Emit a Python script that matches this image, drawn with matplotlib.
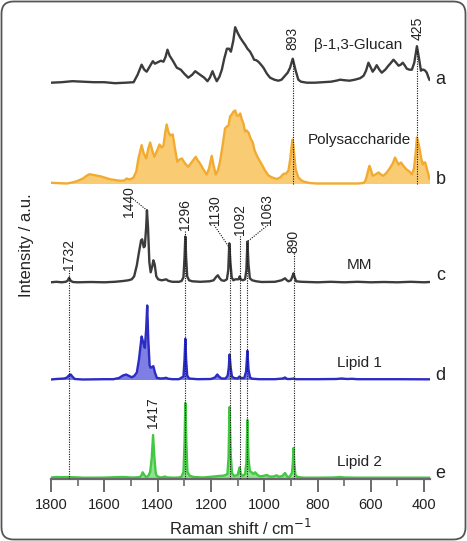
import matplotlib
matplotlib.use("Agg")
import matplotlib.pyplot as plt
from matplotlib.patches import FancyBboxPatch
import numpy as np

plt.rcParams['font.family'] = ['Liberation Sans', 'DejaVu Sans']

# ---------------- data (wavenumber cm-1, relative intensity) ----------------
wn_a = [1800, 1760, 1720, 1680, 1640, 1600, 1560, 1520, 1490, 1475, 1460, 1450, 1441, 1430, 1418,
        1410, 1403, 1395, 1388, 1378, 1370, 1363, 1355, 1343, 1328, 1313, 1300, 1285, 1270, 1259,
        1241, 1225, 1213, 1204, 1194, 1186, 1178, 1168, 1159, 1150, 1140, 1132, 1125, 1116, 1109,
        1100, 1090, 1080, 1072, 1063, 1053, 1045, 1038, 1030, 1022, 1012, 1003, 990, 978, 962,
        947, 935, 922, 912, 903, 893, 882, 872, 862, 840, 810, 780, 750, 730, 715, 700, 680, 660,
        640, 627, 618, 609, 600, 593, 585, 578, 568, 559, 546, 534, 524, 515, 505, 496, 488, 480,
        472, 465, 455, 446, 437, 427, 419, 412, 407, 402, 396, 390, 385, 380]
int_a = [0, 0.5, 1.5, 1, 0.5, 0.5, -0.5, 0, 0.5, 8, 18, 13, 11, 16, 21.5,
         19, 20, 21, 22, 21, 26, 33, 27, 22, 15, 13, 9, 5, 8, 11.5,
         8, 5, 1.5, 5, 11.5, 6, 1.5, 6, 13, 24, 34, 34, 31, 42, 55.5,
         50, 45, 41, 38, 34, 31, 27, 23, 22.5, 21, 18, 15, 9, 5, 3,
         2, 3, 7, 10, 15, 24, 12, 3, 1, 0, 0, 0.5, 1, 2, 3, 2.5, 2, 3,
         4.5, 7, 12, 20, 15, 11, 14, 17.5, 13, 10, 13, 17, 20, 23, 20, 17, 18, 20,
         17, 14, 13, 13, 20, 36.5, 24, 12, 13, 13, 12, 10, 6, 3]

wn_b = [1800, 1770, 1741, 1720, 1703, 1680, 1665, 1654, 1640, 1616, 1579, 1541, 1525, 1516, 1505,
        1491, 1480, 1472, 1460, 1452, 1443, 1435, 1428, 1420, 1412, 1402, 1393, 1385, 1378, 1372,
        1366, 1360, 1353, 1343, 1335, 1326, 1318, 1309, 1297, 1285, 1270, 1257, 1249, 1241, 1228,
        1216, 1207, 1197, 1190, 1182, 1174, 1166, 1155, 1147, 1140, 1134, 1128, 1122, 1115, 1109,
        1103, 1097, 1090, 1084, 1078, 1072, 1066, 1059, 1051, 1043, 1036, 1028, 1018, 1009, 997,
        984, 970, 953, 940, 928, 918, 909, 902, 896, 893, 888, 882, 872, 862, 853, 830, 803, 700,
        650, 627, 620, 615, 609, 605, 599, 593, 583, 571, 562, 553, 540, 527, 518, 509, 502, 496,
        487, 478, 466, 455, 446, 438, 432, 427, 421, 415, 410, 405, 400, 396, 390, 384, 380]
int_b = [0.7, 0.3, 0, 1, 2.3, 5, 8, 9.3, 8.5, 7.3, 4.3, 2.7, 3, 5, 4,
         5.7, 12, 25, 38.3, 30, 25, 35, 41, 33, 26.7, 33, 39, 36, 38, 50,
         59, 52, 48, 49, 35, 21.7, 24, 25, 20, 16.7, 22, 26.7, 23, 20, 14,
         9, 15, 27.7, 18, 9, 13, 21.7, 40, 55, 57, 58, 67, 69, 72, 73,
         68, 67.7, 70, 64, 60, 52, 53, 51, 45, 41, 33, 28, 23, 19, 13,
         8, 6, 4.5, 6, 9.5, 10, 13, 25, 40, 44, 30, 14, 6, 3.5, 2, 0.5, 0, 0,
         0, 0.5, 3, 7.7, 14, 17.7, 13, 7.7, 9, 11, 9, 7.7, 11, 16, 20, 26, 22, 19,
         21, 17.7, 14, 12, 9, 15, 30, 46, 40, 31, 24, 19, 21, 21, 15, 9, 5]

wn_c = [1800, 1780, 1760, 1745, 1738, 1732, 1726, 1718, 1700, 1650, 1600, 1560, 1529, 1510, 1497,
        1488, 1478, 1470, 1462, 1458, 1452, 1448, 1443, 1440, 1436, 1431, 1426, 1420, 1416, 1411,
        1405, 1398, 1385, 1375, 1368, 1360, 1345, 1320, 1310, 1303, 1299, 1296, 1293, 1289, 1282,
        1270, 1240, 1205, 1190, 1180, 1174, 1167, 1160, 1150, 1140, 1135, 1131, 1127, 1122, 1116,
        1108, 1096, 1092, 1088, 1080, 1072, 1067, 1063, 1059, 1054, 1045, 1030, 1010, 960, 935,
        922, 915, 909, 900, 894, 890, 886, 880, 860, 800, 750, 700, 650, 600, 550, 500, 450, 400, 380]
int_c = [0, 0.5, 0, 0.5, 1.5, 4.5, 1.5, 0.3, 0, 0.3, 0, 0.5, 1.3, 2, 3,
         6, 17, 30, 42, 43, 35, 36, 55, 72, 55, 20, 10, 16, 22, 18,
         6, 3, 2, 2.5, 3, 1.5, 0.5, 0.5, 1.3, 5, 25, 45.7, 25, 6, 2,
         1, 0.5, 1, 2, 5.5, 7, 4, 2, 1.5, 3, 12, 39, 20, 5, 2,
         3, 3, 6, 3, 2, 3, 12, 40.7, 18, 4, 2, 1, 0.3, 0.5, 2,
         4, 2, 1, 2, 6, 9, 5, 1, 0.5, 0, 0.5, 0, 0.5, 0, 0.3, 0, 0.5, 0, 0.3]

wn_d = [1800, 1780, 1750, 1740, 1733, 1726, 1720, 1711, 1680, 1600, 1566, 1545, 1530, 1518, 1507,
        1497, 1488, 1478, 1470, 1460, 1455, 1448, 1443, 1439, 1435, 1430, 1426, 1416, 1410, 1403,
        1390, 1378, 1368, 1360, 1345, 1320, 1303, 1299, 1296, 1293, 1289, 1282, 1250, 1200, 1185,
        1176, 1170, 1160, 1145, 1137, 1133, 1130, 1126, 1121, 1113, 1100, 1093, 1087, 1075, 1068,
        1063, 1059, 1053, 1045, 1020, 960, 930, 922, 914, 900, 890, 880, 800, 730, 709, 690, 670,
        650, 600, 500, 400, 380]
int_d = [0, 0.5, 1, 2, 4, 5, 3, 0.5, 0, 0.3, 0.3, 1.5, 4, 5, 3.5,
         2.3, 3.5, 7, 20, 43, 38, 31.7, 50, 74, 40, 14, 11.7, 13.3, 7, 1.7,
         1, 1.2, 1.7, 0.8, 0.3, 0.3, 3, 20, 40.7, 20, 4, 1, 0.3, 0.5, 2,
         5, 3, 1, 1, 4, 12, 25, 12, 3, 1.5, 1, 3, 1.5, 1.5, 8,
         28.7, 10, 2, 0.8, 0.3, 0.3, 1, 2, 0.5, 0.5, 1, 0.3, 0.3, 0.5, 1, 0.5, 0.7,
         0.3, 0.3, 0.3, 0.2, 0.2]

wn_e = [1800, 1780, 1760, 1740, 1720, 1700, 1680, 1640, 1600, 1560, 1541, 1522, 1500, 1480, 1466,
        1460, 1456, 1450, 1443, 1435, 1428, 1422, 1417, 1412, 1407, 1403, 1390, 1378, 1372, 1365,
        1340, 1320, 1310, 1303, 1299, 1296, 1292, 1288, 1280, 1265, 1230, 1196, 1170, 1153, 1145,
        1138, 1134, 1130, 1126, 1121, 1113, 1100, 1095, 1092, 1088, 1080, 1072, 1067, 1063, 1059,
        1054, 1047, 1040, 1034, 1025, 1016, 1005, 990, 980, 965, 953, 945, 932, 922, 914, 905,
        896, 893, 890, 887, 883, 875, 850, 800, 740, 715, 700, 650, 600, 500, 400, 380]
int_e = [0.5, 1, 0.8, 1, 0.8, 0.6, 0.3, 0.3, 0.4, 0.8, 1, 1, 0.5, 0.6, 1,
         3, 5.7, 3, 1, 2, 6, 20, 43, 20, 5, 2, 0.5, 1, 1.5, 0.6,
         0.3, 0.5, 1.5, 6, 35, 75, 35, 6, 2.3, 1, 0.5, 1.3, 2, 2.3, 3,
         4, 20, 71, 25, 5, 2, 3, 8, 10.7, 4, 2, 4, 15, 58, 20,
         7, 5.7, 4, 5.7, 3, 1.7, 2, 3, 1.5, 1.5, 2.7, 1.2, 2, 5, 1.5, 1,
         5, 14, 30, 14, 3, 1, 0.3, 0.3, 0.5, 1, 0.5, 0.3, 0.3, 0.3, 0.3, 0.3]

spectrum_names = ["β-1,3-Glucan", "Polysaccharide", "MM", "Lipid 1", "Lipid 2"]
panel_letters = ["a", "b", "c", "d", "e"]
glucan_peaks = [893, 425]
mm_peaks = [1732, 1296, 1130, 1092, 1063, 890]
lipid2_peak = 1417
mm_main_peak = 1440

x_ticks = [1800, 1600, 1400, 1200, 1000, 800, 600, 400]

# ---------------- layout ----------------
W, H = 467, 541
fig = plt.figure(figsize=(W / 100, H / 100), dpi=100)
ax_left, ax_right, ax_bottom, ax_top = 51, 430, 479, 10
ax = fig.add_axes([ax_left / W, (H - ax_bottom) / H, (ax_right - ax_left) / W, (ax_bottom - ax_top) / H])
ax.set_xlim(1800, 378)
ax.set_ylim(0, ax_bottom - ax_top)

offsets = [396.3, 295.5, 196.7, 99.5, 1.0]
series = [(wn_a, int_a, '#3c3c3c', None),
          (wn_b, int_b, '#f2ab30', '#f8c35a'),
          (wn_c, int_c, '#3c3c3c', None),
          (wn_d, int_d, '#2c2cc4', '#6868de'),
          (wn_e, int_e, '#44c844', '#7ddc7d')]

curves = []
for (wn, it, lc, fc), off in zip(series, offsets):
    x = np.array(wn, float)
    y = np.array(it, float) + off
    curves.append((x, y))
    if fc is not None:
        ax.fill_between(x, off, y, color=fc, alpha=0.85, lw=0, zorder=1)
    ax.plot(x, y, color=lc, lw=1.7, zorder=2, solid_joinstyle='round')

def curve_y(i, w):
    x, y = curves[i]
    return float(np.interp(w, x[::-1], y[::-1]))

dot = dict(color='#111111', lw=0.8, ls=(0, (1, 1.2)), zorder=3)
fs_num = 10

# glucan peaks: a -> b
for p, lab_y in zip(glucan_peaks, [429, 439]):
    ax.plot([p, p], [offsets[1], curve_y(0, p)], **dot)
    ax.text(p, lab_y, str(p), rotation=90, ha='center', va='bottom', fontsize=fs_num, color='#222')

# MM peaks
label_pos = {1732: (1732, 209), 1296: (1296, 249), 1130: (1184, 254), 1092: (1092, 244),
             1063: (990, 254), 890: (890, 226)}
for p in mm_peaks:
    lx, ly = label_pos[p]
    top = curve_y(2, p)
    if lx != p:
        ax.plot([lx + (4 if lx > p else -4), p], [ly, top], **dot)
        ax.plot([p, p], [0, top], **dot)
    else:
        ax.plot([p, p], [0, ly], **dot)
    ax.text(lx, ly, str(p), rotation=90, ha='center', va='bottom', fontsize=fs_num, color='#222')

# 1440 label with leader
ax.plot([1492, mm_main_peak], [280, curve_y(2, mm_main_peak)], **dot)
ax.text(1506, 262, str(mm_main_peak), rotation=90, ha='center', va='bottom', fontsize=fs_num, color='#222')
# 1417 label
ax.text(lipid2_peak, 51, str(lipid2_peak), rotation=90, ha='center', va='bottom', fontsize=fs_num, color='#222')

# names
name_pos = [(648, 434), (644, 339), (644, 214), (644, 116), (644, 17.3)]
for nm, (nx, ny) in zip(spectrum_names, name_pos):
    ax.text(nx, ny, nm, ha='center', va='center', fontsize=11, color='#222')
letter_y = [399, 300, 204, 103, 6]
for lt, ly in zip(panel_letters, letter_y):
    ax.text(338, ly, lt, ha='center', va='center', fontsize=13, color='#222', clip_on=False)

# axes styling
for s in ['left', 'right', 'top']:
    ax.spines[s].set_visible(False)
ax.spines['bottom'].set_color('#6a6a6a')
ax.spines['bottom'].set_linewidth(1.6)
ax.set_yticks([])
ax.set_xticks(x_ticks)
ax.set_xticks(list(range(1700, 300, -200)), minor=True)
ax.tick_params(axis='x', which='major', direction='out', length=9, width=1.4, color='#6a6a6a',
               labelsize=10.5, labelcolor='#222', pad=5)
ax.tick_params(axis='x', which='minor', direction='out', length=5, width=1.2, color='#6a6a6a')
ax.set_xlabel('Raman shift / cm$^{-1}$', fontsize=12, color='#222', labelpad=4)
fig.text(26 / W, 1 - 245 / H, 'Intensity / a.u.', rotation=90, ha='center', va='center',
         fontsize=12, color='#222')

# rounded frame
frame = FancyBboxPatch((0.015, 0.015), W / 100 - 0.03, H / 100 - 0.03,
                       boxstyle="round,pad=0,rounding_size=0.12",
                       transform=fig.dpi_scale_trans, fill=False, ec='#555555', lw=1.3)
fig.add_artist(frame)

fig.savefig('out.png', dpi=100)
